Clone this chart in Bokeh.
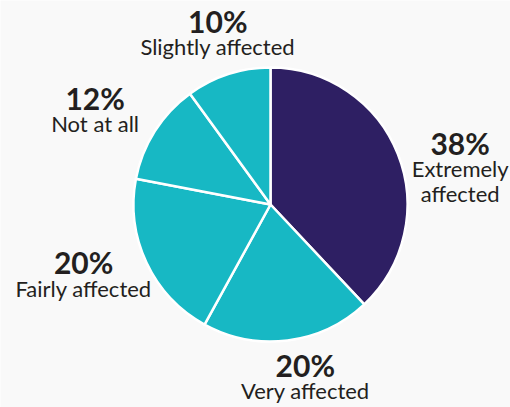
import math
from bokeh.plotting import figure
from bokeh.models import Range1d, ColumnDataSource
from bokeh.core.properties import value
from bokeh.embed import file_html
from bokeh.resources import INLINE

# ---- data ----
categories = ["Extremely affected", "Very affected", "Fairly affected", "Not at all", "Slightly affected"]
shares = [38, 20, 20, 12, 10]
label_lines = [["Extremely", "affected"], ["Very affected"], ["Fairly affected"], ["Not at all"], ["Slightly affected"]]

# ---- style ----
colors = ["#2e1f63", "#17b8c4", "#17b8c4", "#17b8c4", "#17b8c4"]
BG = "#f9f9f9"
TXT = "#231f20"
W, H = 510, 407
CX, CY, R = 270, H - 204, 137        # page px -> data (y up)
LABEL_R = 190
nudges = [(13, -19), (11, 17.5), (-15, 12), (-15, -6), (6, -8)]  # px tweaks (y up)
PCT_SHIFT, LBL_SHIFT = 11, 10   # renderer baseline correction (px, y up)

total = sum(shares)
starts, ends, mids = [], [], []
acc = 0.0
for s in shares:
    a0 = math.pi / 2 - 2 * math.pi * acc / total
    acc += s
    a1 = math.pi / 2 - 2 * math.pi * acc / total
    starts.append(a0)
    ends.append(a1)
    mids.append((a0 + a1) / 2)

p = figure(width=W, height=H, output_backend="svg", toolbar_location=None,
           x_range=Range1d(0, W), y_range=Range1d(0, H),
           x_axis_type=None, y_axis_type=None, min_border=0,
           background_fill_color=BG, border_fill_color=BG, outline_line_color=None)
p.grid.visible = False

src = ColumnDataSource(dict(x=[CX] * len(shares), y=[CY] * len(shares),
                            start=starts, end=ends, color=colors, cat=categories))
p.wedge(x="x", y="y", radius=R, start_angle="end", end_angle="start",
        fill_color="color", line_color="white", line_width=2.5, source=src)

px, py, pt = [], [], []
lx, ly, lt = [], [], []
for i, (s, m) in enumerate(zip(shares, mids)):
    ax = CX + LABEL_R * math.cos(m) + nudges[i][0]
    ay = CY + LABEL_R * math.sin(m) + nudges[i][1]
    px.append(ax); py.append(ay + PCT_SHIFT); pt.append(f"{s}%")
    for j, line in enumerate(label_lines[i]):
        lx.append(ax); ly.append(ay - 25 * (j + 1) + LBL_SHIFT); lt.append(line)

p.text(x=px, y=py, text=pt, text_align="center", text_baseline="alphabetic",
       text_font=value("Lato"), text_font_style="bold", text_font_size="30px", text_color=TXT)
p.text(x=lx, y=ly, text=lt, text_align="center", text_baseline="alphabetic",
       text_font=value("Lato"), text_font_size="22px", text_color=TXT)

open("out.html", "w").write(file_html(p, INLINE))
